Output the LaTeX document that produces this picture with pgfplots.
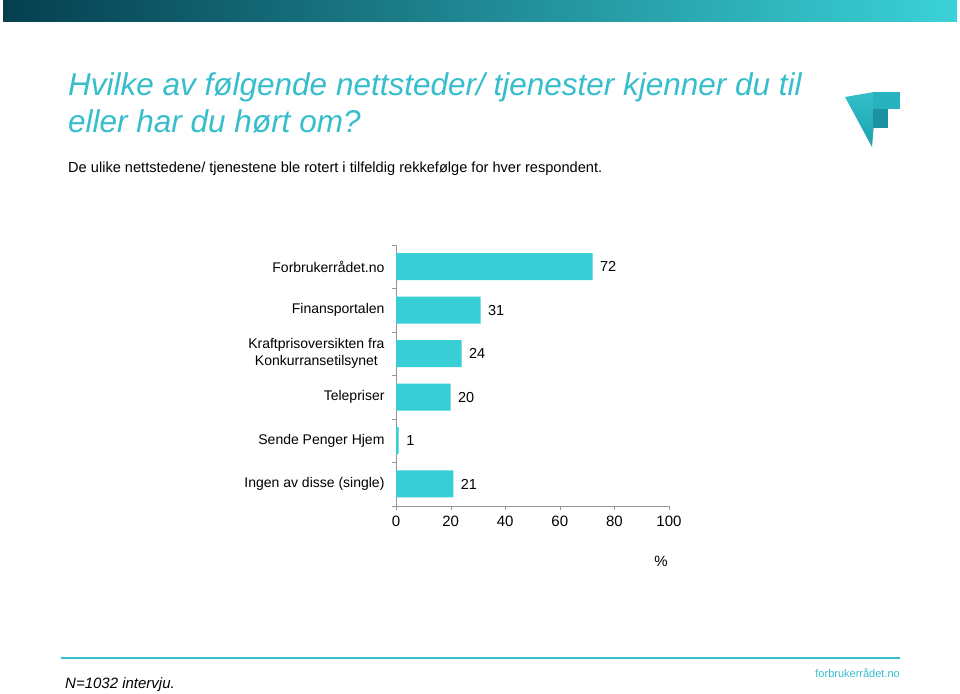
\documentclass[border=0pt]{standalone}
\usepackage{pgfplots}
\pgfplotsset{compat=1.18}
\usepackage{fontspec}
\setmainfont{Liberation Sans}
\definecolor{barc}{RGB}{56,206,214}
\definecolor{titlec}{RGB}{54,190,205}
\definecolor{darkc}{RGB}{5,63,79}
\definecolor{lightc}{RGB}{58,210,216}
\definecolor{axc}{RGB}{150,150,150}
\definecolor{logoa}{RGB}{50,192,202}
\definecolor{logob}{RGB}{30,160,175}
\definecolor{logoc}{RGB}{40,178,192}
\definecolor{logod}{RGB}{28,145,160}
\begin{document}
\begin{tikzpicture}[x=1pt,y=1pt]
\path[fill=white] (0,0) rectangle (960,693);
\shade[left color=darkc, right color=lightc] (3,692) rectangle (957,671);
% logo
\shade[top color=logoa, bottom color=logob] (845,596) -- (874,601) -- (874,570) -- (872,546) -- cycle;
\fill[logoc] (873,601) -- (900,601) -- (900,584) -- (873,584) -- cycle;
\fill[logod] (873,584) -- (888,584) -- (888,565) -- (873,565) -- cycle;
% titles
\node[anchor=base west, inner sep=0, text=titlec, font=\fontsize{31.5}{36}\selectfont\itshape] at (68,693-96) {Hvilke av følgende nettsteder/ tjenester kjenner du til};
\node[anchor=base west, inner sep=0, text=titlec, font=\fontsize{31.5}{36}\selectfont\itshape] at (68,693-133) {eller har du hørt om?};
\node[anchor=base west, inner sep=0, font=\fontsize{14.6}{17}\selectfont] at (68,693-173) {De ulike nettstedene/ tjenestene ble rotert i tilfeldig rekkefølge for hver respondent.};
\begin{axis}[at={(396pt,187.3pt)}, anchor=south west, scale only axis,
  width=273pt, height=260.7pt,
  xmin=0, xmax=100, ymin=-0.5, ymax=5.5, y dir=reverse,
  xbar, bar width=27pt,
  axis x line*=bottom, axis y line*=left,
  axis line style={axc},
  xtick={0,20,...,100},
  ytick={0,...,5},
  yticklabels={Forbrukerrådet.no, Finansportalen, {Kraftprisoversikten fra\\Konkurransetilsynet}, Telepriser, Sende Penger Hjem, Ingen av disse (single)},
  ytick style={draw=none},
  xtick style={axc},
  tick align=outside,
  major tick length=4pt,
  extra y ticks={-0.5,0.5,1.5,2.5,3.5,4.5,5.5},
  extra y tick labels={},
  extra y tick style={ytick style={draw=axc}, major tick length=4pt},
  yticklabel style={align=center, xshift=-4pt, font=\fontsize{14}{16.5}\selectfont},
  xticklabel style={yshift=-3pt, font=\fontsize{15}{17}\selectfont},
  /pgf/number format/assume math mode=true,
  ytick pos=left, xtick pos=bottom,
  nodes near coords,
  every node near coord/.append style={anchor=west, xshift=4pt, font=\fontsize{14.5}{17}\selectfont, text=black},
  clip=false
]
\addplot[fill=barc, draw=none] coordinates {(72,0) (31,1) (24,2) (20,3) (1,4) (21,5)};
\end{axis}
\node[font=\fontsize{15}{17}\selectfont] at (661,693-561) {\%};
\draw[titlec, line width=1.3] (61,693-658) -- (900,693-658);
\node[anchor=base east, inner sep=0, text=titlec, font=\fontsize{11}{13}\selectfont] at (900,693-677) {forbrukerrådet.no};
\node[anchor=base west, inner sep=0, font=\fontsize{15}{17}\selectfont\itshape] at (65,693-688) {N=1032 intervju.};
\end{tikzpicture}
\end{document}
